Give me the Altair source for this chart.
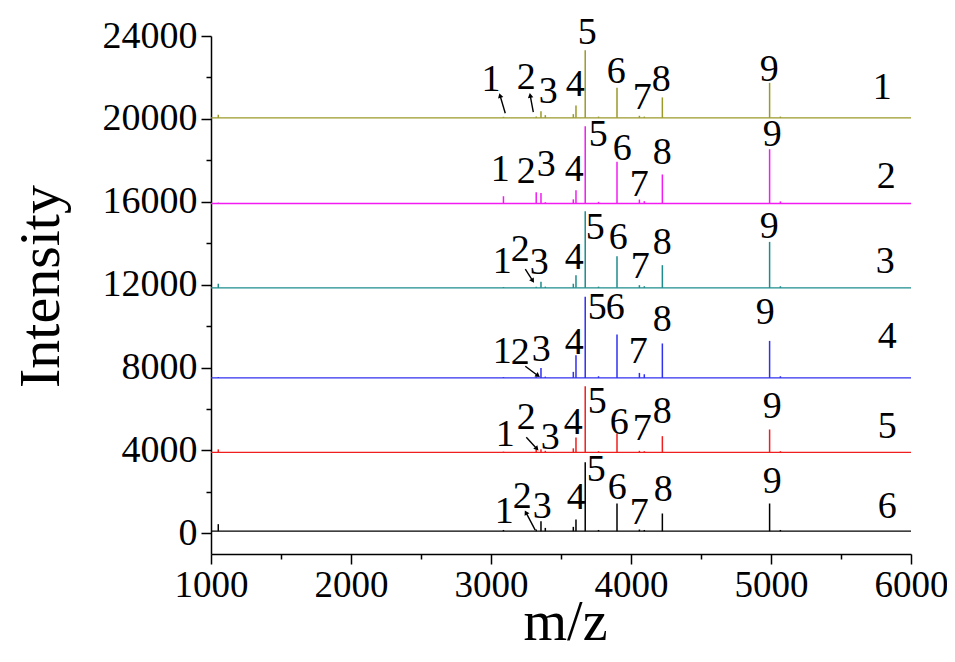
import altair as alt
import pandas as pd
import numpy as np

# ---------------- data ----------------
traces = ["1", "2", "3", "4", "5", "6"]
colors = ["#9A9A2A", "#F21CF2", "#1E8C8C", "#3030F0", "#F01E1E", "#000000"]
offsets = [20050, 15917, 11844, 7500, 3900, 100]

peak_mz = [1052, 3089, 3323, 3357, 3388, 3588, 3607, 3673, 3768, 3900, 4060, 4095, 4224, 4990, 5067]
heights = {
    "1": [150, 50, 60, 320, 130, 180, 600, 3267, 60, 1448, 100, 60, 985, 1690, 60],
    "2": [40, 350, 545, 510, 60, 200, 642, 3731, 80, 2008, 190, 110, 1400, 2620, 100],
    "3": [200, 40, 60, 290, 60, 200, 610, 3700, 60, 1530, 130, 80, 1095, 2220, 80],
    "4": [40, 40, 60, 480, 60, 290, 1095, 3910, 80, 2095, 240, 175, 1660, 1785, 80],
    "5": [150, 40, 160, 160, 80, 200, 724, 3200, 60, 917, 80, 60, 787, 1110, 60],
    "6": [340, 60, 80, 483, 160, 210, 565, 3330, 60, 1337, 80, 60, 855, 1337, 60],
}

peak_labels = ["1", "2", "3", "4", "5", "6", "7", "8", "9"]
label_x = {
    "1": [3000, 3252, 3409, 3602, 3688, 3895, 4081, 4216, 4988],
    "2": [3066, 3252, 3395, 3595, 3766, 3938, 4059, 4224, 5009],
    "3": [3081, 3209, 3345, 3595, 3745, 3909, 4066, 4224, 4988],
    "4": [3081, 3209, 3359, 3595, 3759, 3888, 4052, 4224, 4959],
    "5": [3102, 3252, 3424, 3588, 3759, 3916, 4081, 4224, 5009],
    "6": [3095, 3224, 3366, 3609, 3752, 3902, 4059, 4231, 5009],
}
label_y = {
    "1": [21868, 21965, 21289, 21627, 24136, 22254, 20999, 21868, 22350],
    "2": [17524, 17428, 17765, 17524, 19213, 18537, 16800, 18344, 19213],
    "3": [13084, 13663, 13036, 13277, 14725, 14242, 12843, 14001, 14773],
    "4": [8740, 8692, 8837, 9175, 10864, 10864, 8740, 10285, 10623],
    "5": [4735, 5555, 4590, 5314, 6327, 5314, 5024, 5844, 6086],
    "6": [1018, 1742, 1260, 1694, 3045, 2177, 970, 2080, 2466],
}
trace_num_x = [5795, 5824, 5816, 5831, 5831, 5831]
trace_num_y = [21482, 17186, 13084, 9464, 5121, 1260]

arrow_tail_x = [3102, 3302, 3245, 3245, 3252, 3316]
arrow_tail_y = [20270, 20323, 12746, 8064, 4638, 150]
arrow_head_x = [3066, 3281, 3295, 3331, 3324, 3252]
arrow_head_y = [21093, 21093, 12215, 7630, 4107, 970]

x_ticks = list(range(1000, 6001, 500))
y_ticks = list(range(0, 24001, 2000))

# ---------------- tables ----------------
W, H = 700, 518
X_DOM = [1000, 6000]
Y_DOM = [-1000, 24000]

base_df = pd.DataFrame({"trace": traces, "y": offsets,
                        "x": [X_DOM[0]] * 6, "x2": [X_DOM[1]] * 6})
rows = []
for t, off in zip(traces, offsets):
    for mz, h in zip(peak_mz, heights[t]):
        rows.append({"trace": t, "x": mz, "y": off, "y2": off + h})
peak_df = pd.DataFrame(rows)

lrows = []
for t in traces:
    for txt, lx, ly in zip(peak_labels, label_x[t], label_y[t]):
        lrows.append({"text": txt, "x": lx, "y": ly})
for t, lx, ly in zip(traces, trace_num_x, trace_num_y):
    lrows.append({"text": t, "x": lx, "y": ly})
label_df = pd.DataFrame(lrows)

pxx = W / (X_DOM[1] - X_DOM[0])
pxy = H / (Y_DOM[1] - Y_DOM[0])
ang = []
for tx, ty, hx, hy in zip(arrow_tail_x, arrow_tail_y, arrow_head_x, arrow_head_y):
    dx = (hx - tx) * pxx
    dy = -(hy - ty) * pxy
    ang.append(float(np.degrees(np.arctan2(dx, -dy)) % 360))
arrow_df = pd.DataFrame({"x": arrow_tail_x, "y": arrow_tail_y,
                         "x2": arrow_head_x, "y2": arrow_head_y,
                         "hx": arrow_head_x, "hy": arrow_head_y, "ang": ang})

# ---------------- encodings ----------------
FONT = "Liberation Serif"
xscale = alt.Scale(domain=X_DOM, nice=False, zero=False)
yscale = alt.Scale(domain=Y_DOM, nice=False, zero=False)

xaxis = alt.Axis(values=x_ticks, format="d", grid=False, title="m/z",
                 labelExpr="datum.value % 1000 == 0 ? datum.label : ''",
                 tickSize={"condition": {"test": "datum.value % 1000 != 0", "value": 5}, "value": 10},
                 labelFont=FONT, labelFontSize=37, labelColor="black", labelPadding=3,
                 titleFont=FONT, titleFontSize=56, titleFontWeight="normal", titleColor="black",
                 titleBaseline="alphabetic", titleY=85, titleX=W / 2 + 4,
                 tickColor="black", domainColor="black",
                 tickWidth=1.5, domainWidth=1.5, labelFlush=False, labelOverlap=False)
yaxis = alt.Axis(values=y_ticks, format="d", grid=False, title="Intensity",
                 labelExpr="datum.value % 4000 == 0 ? datum.label : ''",
                 tickSize={"condition": {"test": "datum.value % 4000 != 0", "value": 5}, "value": 10},
                 labelFont=FONT, labelFontSize=38, labelColor="black", labelPadding=4,
                 titleFont=FONT, titleFontSize=58, titleFontWeight="normal", titleColor="black",
                 titleBaseline="middle", titleX=-170, titleY=250,
                 tickColor="black", domainColor="black",
                 tickWidth=1.5, domainWidth=1.5, labelFlush=False, labelOverlap=False)

color = alt.Color("trace:N", scale=alt.Scale(domain=traces, range=colors), legend=None)

baselines = alt.Chart(base_df).mark_rule(strokeWidth=1.3).encode(
    x=alt.X("x:Q", scale=xscale, axis=xaxis),
    x2="x2:Q",
    y=alt.Y("y:Q", scale=yscale, axis=yaxis),
    color=color,
)
peaks = alt.Chart(peak_df).mark_rule(strokeWidth=1.5).encode(
    x=alt.X("x:Q", scale=xscale, axis=xaxis),
    y=alt.Y("y:Q", scale=yscale, axis=yaxis),
    y2="y2:Q",
    color=color,
)
labels = alt.Chart(label_df).mark_text(font=FONT, fontSize=38, color="black",
                                       align="center", baseline="middle").encode(
    x=alt.X("x:Q", scale=xscale, axis=xaxis),
    y=alt.Y("y:Q", scale=yscale, axis=yaxis),
    text="text:N",
)
arrow_lines = alt.Chart(arrow_df).mark_rule(strokeWidth=1.4, color="black").encode(
    x=alt.X("x:Q", scale=xscale, axis=xaxis),
    y=alt.Y("y:Q", scale=yscale, axis=yaxis),
    x2="x2:Q", y2="y2:Q",
)
arrow_heads = alt.Chart(arrow_df).mark_point(shape="triangle", filled=True, size=30,
                                             color="black", opacity=1).encode(
    x=alt.X("hx:Q", scale=xscale, axis=xaxis),
    y=alt.Y("hy:Q", scale=yscale, axis=yaxis),
    angle=alt.Angle("ang:Q", scale=None),
)

chart = alt.layer(baselines, peaks, arrow_lines, arrow_heads, labels).properties(
    width=W, height=H,
    padding={"left": 203, "top": 28, "right": 36, "bottom": 98},
    autosize=alt.AutoSizeParams(type="none"),
    background="white",
).configure_view(stroke=None)

chart.save("out.html", embed_options={"renderer": "svg", "actions": False})
